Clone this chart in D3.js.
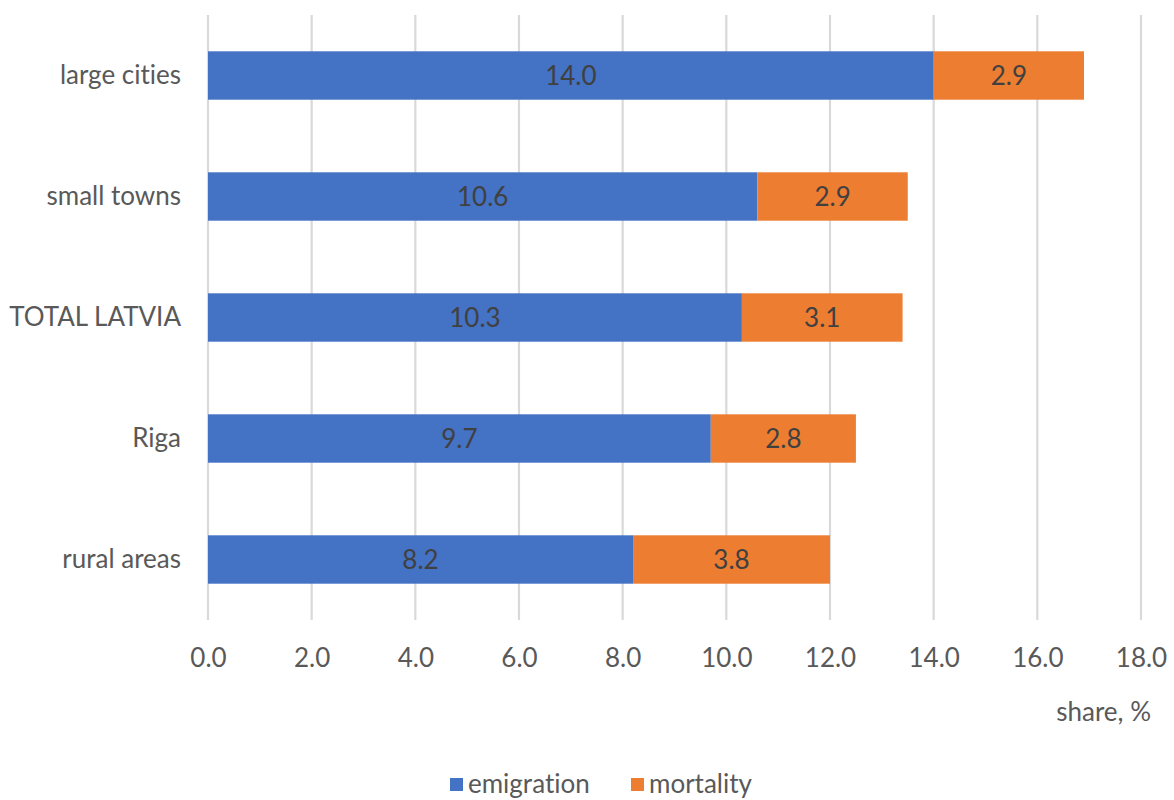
<!DOCTYPE html>
<html>
<head>
<meta charset="utf-8">
<script src="https://cdn.jsdelivr.net/npm/d3@7/dist/d3.min.js"></script>
<style>
  html, body { margin: 0; padding: 0; background: #fff; }
  svg { display: block; font-family: Lato, "Liberation Sans", Arial, sans-serif; font-variant-ligatures: none; font-feature-settings: "liga" 0, "clig" 0; }
  svg text { font-variant-ligatures: none; }
</style>
</head>
<body>
<svg id="chart" width="1174" height="800"></svg>
<script>
// Population loss by settlement type, share of population (%)
const categories = ["large cities", "small towns", "TOTAL LATVIA", "Riga", "rural areas"];
const emigration = [14.0, 10.6, 10.3, 9.7, 8.2];
const mortality  = [2.9, 2.9, 3.1, 2.8, 3.8];
const seriesNames = ["emigration", "mortality"];
const seriesColors = ["#4472C4", "#ED7D31"];
const xTicks = [0, 2, 4, 6, 8, 10, 12, 14, 16, 18];
const axisTitle = "share, %";

const FONT = "Lato, 'Liberation Sans', Arial, sans-serif";
const FS = 26;

const svg = d3.select("#chart");
const plot = { left: 208, right: 1141, top: 15, bottom: 620 };

const x = d3.scaleLinear().domain([0, 18]).range([plot.left, plot.right]);
const y = d3.scaleBand().domain(categories).range([plot.top, plot.bottom]).paddingInner(0.6).paddingOuter(0.3);

const rows = categories.map((c, i) => ({ category: c, emigration: emigration[i], mortality: mortality[i] }));
const stacked = d3.stack().keys(seriesNames)(rows);

// vertical gridlines
svg.append("g")
  .selectAll("line")
  .data(xTicks)
  .join("line")
  .attr("x1", d => x(d)).attr("x2", d => x(d))
  .attr("y1", plot.top).attr("y2", plot.bottom)
  .attr("stroke", "#D9D9D9")
  .attr("stroke-width", 2.2);

// bars
const layers = svg.append("g")
  .selectAll("g")
  .data(stacked)
  .join("g")
  .attr("fill", (d, i) => seriesColors[i]);

layers.selectAll("rect")
  .data(d => d)
  .join("rect")
  .attr("x", d => x(d[0]))
  .attr("y", d => y(d.data.category))
  .attr("width", d => x(d[1]) - x(d[0]))
  .attr("height", y.bandwidth());

// value labels in the middle of each segment
layers.selectAll("text")
  .data(d => d)
  .join("text")
  .attr("x", d => (x(d[0]) + x(d[1])) / 2)
  .attr("y", d => y(d.data.category) + y.bandwidth() / 2)
  .attr("dy", "0.36em")
  .attr("text-anchor", "middle")
  .attr("fill", "#404040")
  .attr("font-size", FS)
  .attr("font-family", FONT)
  .text(d => d3.format(".1f")(d[1] - d[0]));

// category labels
const yAxis = d3.axisLeft(y).tickSize(0).tickPadding(27);
const yg = svg.append("g").attr("transform", `translate(${plot.left},0)`).call(yAxis);
yg.select(".domain").remove();
yg.selectAll("text").attr("font-size", FS).attr("fill", "#595959").attr("font-family", FONT);

// x tick labels
const xAxis = d3.axisBottom(x).tickValues(xTicks).tickFormat(d3.format(".1f")).tickSize(0).tickPadding(29);
const xg = svg.append("g").attr("transform", `translate(0,${plot.bottom})`).call(xAxis);
xg.select(".domain").remove();
xg.selectAll("text").attr("font-size", FS).attr("fill", "#595959").attr("font-family", FONT);

// axis title
svg.append("text")
  .attr("x", 1151).attr("y", 721)
  .attr("text-anchor", "end")
  .attr("font-size", FS)
  .attr("font-family", FONT)
  .attr("fill", "#595959")
  .text(axisTitle);

// legend
const legendItems = [{ x: 450 }, { x: 631 }];
const legend = svg.append("g");
seriesNames.forEach((name, i) => {
  legend.append("rect")
    .attr("x", legendItems[i].x).attr("y", 778)
    .attr("width", 13).attr("height", 13)
    .attr("fill", seriesColors[i]);
  legend.append("text")
    .attr("x", legendItems[i].x + 18).attr("y", 793)
    .attr("font-size", FS)
    .attr("font-family", FONT)
    .attr("fill", "#595959")
    .text(name);
});
</script>
</body>
</html>
